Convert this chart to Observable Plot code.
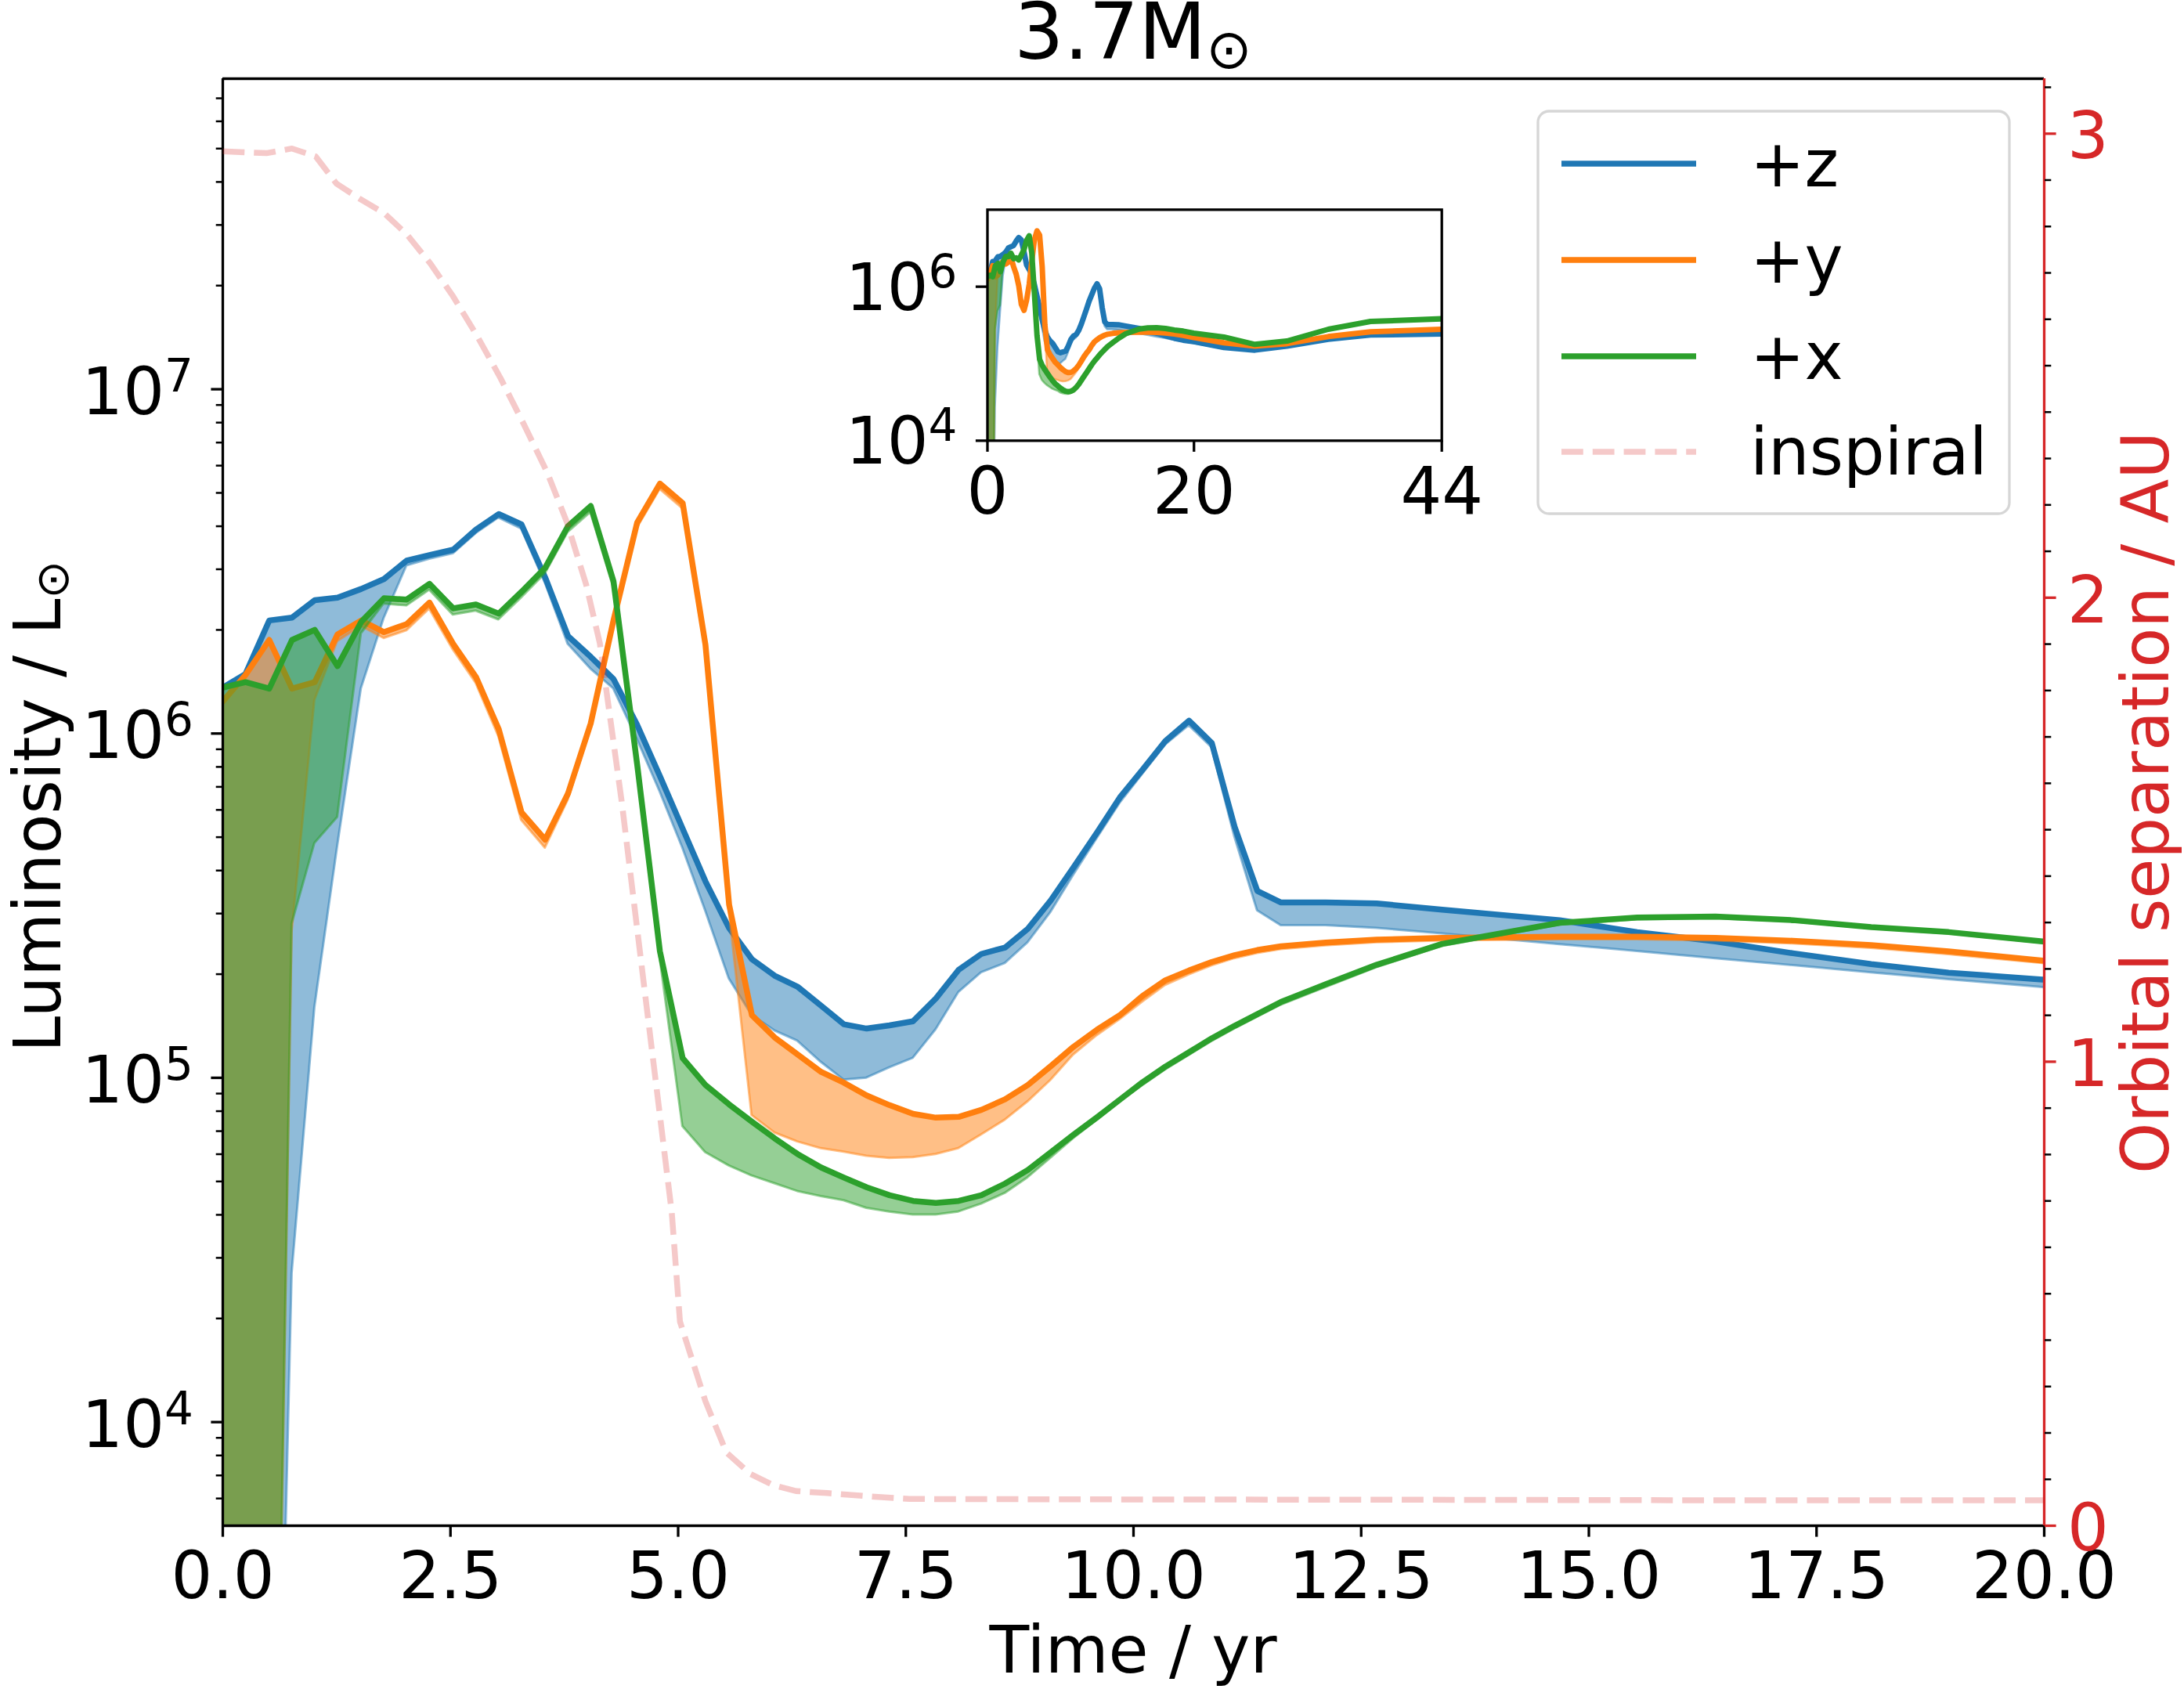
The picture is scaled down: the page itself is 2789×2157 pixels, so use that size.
<!DOCTYPE html>
<html><head><meta charset="utf-8">
<script src="https://cdn.jsdelivr.net/npm/d3@7"></script>
<script src="https://cdn.jsdelivr.net/npm/@observablehq/plot@0.6"></script>
<style>
html,body{margin:0;padding:0;background:#fff;}
#wrap{position:relative;width:2789px;height:2157px;}
#wrap svg{position:absolute;left:0;top:0;}
</style></head><body><div id="wrap"></div>
<script>
// ---------------- data ----------------
const time = [0, 0.25, 0.51, 0.76, 1.01, 1.26, 1.52, 1.77, 2.02, 2.27, 2.53, 2.78, 3.03, 3.28, 3.54, 3.79, 4.04, 4.29, 4.55, 4.80,
  5.05, 5.30, 5.56, 5.81, 6.06, 6.31, 6.57, 6.82, 7.07, 7.32, 7.58, 7.83, 8.08, 8.33, 8.59, 8.84, 9.09, 9.34, 9.60, 9.85,
  10.10, 10.35, 10.61, 10.86, 11.11, 11.36, 11.62,
  12.11, 12.67, 13.39, 14.68, 15.53, 16.39, 17.24, 18.10, 18.95, 19.98, 22.9, 25.9, 29.0, 33.0, 37.1, 44.0];

// +z (blue)
const zMid = [1.36e6, 1.49e6, 2.13e6, 2.17e6, 2.44e6, 2.48e6, 2.63e6, 2.81e6, 3.18e6, 3.30e6, 3.42e6, 3.91e6, 4.34e6, 4.05e6, 2.84e6, 1.92e6, 1.67e6, 1.44e6, 1.06e6, 7.52e5,
  5.29e5, 3.72e5, 2.72e5, 2.21e5, 1.98e5, 1.84e5, 1.62e5, 1.43e5, 1.39e5, 1.42e5, 1.46e5, 1.70e5, 2.06e5, 2.29e5, 2.39e5, 2.71e5, 3.27e5, 4.08e5, 5.16e5, 6.52e5,
  7.86e5, 9.51e5, 1.09e6, 9.38e5, 5.36e5, 3.49e5, 3.23e5,
  3.23e5, 3.21e5, 3.08e5, 2.87e5, 2.65e5, 2.49e5, 2.30e5, 2.14e5, 2.02e5, 1.93e5, 1.62e5, 1.50e5, 1.69e5, 2.08e5, 2.36e5, 2.43e5];
const zLo = [30, 30, 40, 2.7e4, 1.6e5, 4.7e5, 1.35e6, 2.16e6, 3.07e6, 3.21e6, 3.33e6, 3.81e6, 4.23e6, 3.93e6, 2.74e6, 1.82e6, 1.54e6, 1.35e6, 9.63e5, 6.78e5,
  4.65e5, 3.06e5, 1.94e5, 1.52e5, 1.37e5, 1.28e5, 1.11e5, 9.86e4, 9.99e4, 1.07e5, 1.14e5, 1.38e5, 1.77e5, 2.02e5, 2.15e5, 2.47e5, 3.02e5, 3.87e5, 4.96e5, 6.27e5,
  7.62e5, 9.26e5, 1.055e6, 9.10e5, 5.02e5, 3.06e5, 2.77e5,
  2.77e5, 2.72e5, 2.62e5, 2.44e5, 2.33e5, 2.22e5, 2.12e5, 2.02e5, 1.93e5, 1.83e5, 1.55e5, 1.44e5, 1.62e5, 2.00e5, 2.27e5, 2.34e5];

// +y (orange)
const yMid = [1.24e6, 1.48e6, 1.87e6, 1.35e6, 1.41e6, 1.94e6, 2.13e6, 1.97e6, 2.08e6, 2.40e6, 1.82e6, 1.46e6, 1.03e6, 5.90e5, 4.92e5, 6.69e5, 1.07e6, 2.13e6, 4.10e6, 5.32e6,
  4.67e6, 1.81e6, 3.18e5, 1.52e5, 1.31e5, 1.17e5, 1.04e5, 9.68e4, 8.89e4, 8.33e4, 7.86e4, 7.66e4, 7.70e4, 8.07e4, 8.66e4, 9.53e4, 1.08e5, 1.23e5, 1.38e5, 1.52e5,
  1.73e5, 1.92e5, 2.05e5, 2.17e5, 2.27e5, 2.35e5, 2.41e5,
  2.47e5, 2.52e5, 2.55e5, 2.57e5, 2.57e5, 2.55e5, 2.50e5, 2.43e5, 2.33e5, 2.19e5, 1.87e5, 1.69e5, 1.82e5, 2.25e5, 2.59e5, 2.80e5];
const yLo = [30, 30, 30, 2.65e5, 1.25e6, 1.85e6, 2.05e6, 1.89e6, 1.99e6, 2.30e6, 1.75e6, 1.40e6, 9.8e5, 5.6e5, 4.65e5, 6.4e5, 1.03e6, 2.05e6, 3.95e6, 5.12e6,
  4.50e6, 1.74e6, 3.06e5, 7.78e4, 6.92e4, 6.52e4, 6.23e4, 6.09e4, 5.92e4, 5.84e4, 5.87e4, 5.99e4, 6.23e4, 6.83e4, 7.54e4, 8.52e4, 9.83e4, 1.165e5, 1.327e5, 1.476e5,
  1.661e5, 1.857e5, 1.992e5, 2.115e5, 2.22e5, 2.30e5, 2.36e5,
  2.42e5, 2.47e5, 2.50e5, 2.52e5, 2.52e5, 2.50e5, 2.45e5, 2.38e5, 2.28e5, 2.15e5, 1.82e5, 1.65e5, 1.78e5, 2.20e5, 2.54e5, 2.75e5];

// +x (green)
const xMid = [1.36e6, 1.41e6, 1.35e6, 1.87e6, 2.00e6, 1.57e6, 2.11e6, 2.47e6, 2.45e6, 2.72e6, 2.31e6, 2.37e6, 2.23e6, 2.58e6, 3.03e6, 4.00e6, 4.58e6, 2.77e6, 8.13e5, 2.33e5,
  1.14e5, 9.53e4, 8.37e4, 7.46e4, 6.67e4, 6.01e4, 5.49e4, 5.13e4, 4.81e4, 4.56e4, 4.39e4, 4.33e4, 4.39e4, 4.56e4, 4.93e4, 5.40e4, 6.07e4, 6.83e4, 7.68e4, 8.64e4,
  9.71e4, 1.078e5, 1.187e5, 1.303e5, 1.416e5, 1.531e5, 1.661e5,
  1.87e5, 2.13e5, 2.45e5, 2.82e5, 2.92e5, 2.94e5, 2.87e5, 2.74e5, 2.65e5, 2.49e5, 2.22e5, 1.78e5, 1.97e5, 2.80e5, 3.54e5, 3.83e5];
const xLo = [30, 30, 30, 2.80e5, 4.80e5, 5.71e5, 1.95e6, 2.38e6, 2.35e6, 2.61e6, 2.21e6, 2.27e6, 2.14e6, 2.48e6, 2.91e6, 3.84e6, 4.39e6, 2.66e6, 7.8e5, 2.24e5,
  7.23e4, 6.07e4, 5.55e4, 5.19e4, 4.93e4, 4.68e4, 4.52e4, 4.40e4, 4.18e4, 4.08e4, 4.00e4, 4.00e4, 4.08e4, 4.30e4, 4.62e4, 5.13e4, 5.84e4, 6.66e4, 7.54e4, 8.52e4,
  9.5e4, 1.055e5, 1.162e5, 1.276e5, 1.387e5, 1.50e5, 1.627e5,
  1.83e5, 2.09e5, 2.41e5, 2.78e5, 2.88e5, 2.90e5, 2.84e5, 2.71e5, 2.62e5, 2.46e5, 2.18e5, 1.75e5, 1.93e5, 2.75e5, 3.48e5, 3.77e5];

// inspiral: orbital separation (AU)
const sepT  = [0, 0.48, 0.76, 1.02, 1.25, 1.51, 1.77, 2.02, 2.28, 2.53, 2.79, 3.05, 3.30, 3.56, 3.78, 3.99, 4.14, 4.25, 4.38, 4.51,
  4.64, 4.80, 4.93, 5.02, 5.30, 5.53, 5.79, 6.05, 6.30, 6.64, 7.08, 7.54, 10.1, 13.0, 16.0, 20.0];
const sepAU = [2.962, 2.958, 2.968, 2.951, 2.892, 2.859, 2.829, 2.783, 2.72, 2.649, 2.565, 2.473, 2.376, 2.271, 2.162, 2.028, 1.902, 1.746, 1.561, 1.351,
  1.141, 0.884, 0.675, 0.44, 0.268, 0.158, 0.112, 0.087, 0.0746, 0.0703, 0.0636, 0.0577, 0.0566, 0.056, 0.055, 0.055];

const seriesNames = ["+z", "+y", "+x"];
const seriesColors = ["#1f77b4", "#ff7f0e", "#2ca02c"];
const sepColor = "#d62728";

const xTicks = [0, 2.5, 5, 7.5, 10, 12.5, 15, 17.5, 20];
const yMajor = [1e4, 1e5, 1e6, 1e7];
const yMinor = [6e3, 7e3, 8e3, 9e3, 2e4, 3e4, 4e4, 5e4, 6e4, 7e4, 8e4, 9e4, 2e5, 3e5, 4e5, 5e5, 6e5, 7e5, 8e5, 9e5,
  2e6, 3e6, 4e6, 5e6, 6e6, 7e6, 8e6, 9e6, 2e7, 3e7, 4e7, 5e7, 6e7, 7e7];
const sepMajor = [0, 1, 2, 3];
const sepMinor = [0.1, 0.2, 0.3, 0.4, 0.5, 0.6, 0.7, 0.8, 0.9, 1.1, 1.2, 1.3, 1.4, 1.5, 1.6, 1.7, 1.8, 1.9,
  2.1, 2.2, 2.3, 2.4, 2.5, 2.6, 2.7, 2.8, 2.9, 3.1];
const insetXTicks = [0, 20, 44];
const insetYTicks = [1e4, 1e6];

// ---------------- layout ----------------
const W = 2789, H = 2157;
const FONT = "DejaVu Sans", FS = 83, TITLE_FS = 100;
const yDom = [5.0e3, 7.98e7];
const sepDom = [0, 3.1185];
const MAJ = 14.6, MIN = 8.3, LW = 3.3;
const LINE_W = 7.5, DASH = "27.8,12";

const tables = seriesNames.map((name, k) => {
  const mid = [zMid, yMid, xMid][k], lo = [zLo, yLo, xLo][k];
  return {name, color: seriesColors[k], rows: time.map((t, i) => ({t, mid: mid[i], lo: lo[i]}))};
});
const sepRows = sepT.map((t, i) => ({t, a: sepAU[i]}));

function seriesMarks(lineW, edgeW) {
  return tables.flatMap(s => [
    Plot.areaY(s.rows, {x: "t", y1: "lo", y2: "mid", fill: s.color, fillOpacity: 0.5,
      stroke: s.color, strokeOpacity: 0.5, strokeWidth: edgeW, clip: true}),
    Plot.lineY(s.rows, {x: "t", y: "mid", stroke: s.color, strokeWidth: lineW, clip: true})
  ]);
}
const expFmt = d => "10^" + Math.round(Math.log10(d));

function fixTexts(svg) {
  d3.select(svg).selectAll("text").each(function () {
    const s = this.textContent;
    const m = /^10\^(\d+)$/.exec(s);
    if (m) {
      const t = d3.select(this);
      t.text("10");
      t.append("tspan").attr("font-size", Math.round(FS * 0.7) + "px").attr("dy", -29).text(m[1]);
    } else if (s === "") {
      this.remove();
    }
  });
}

const baseStyle = {fontFamily: FONT, fontSize: FS + "px", background: "transparent", color: "black", overflow: "visible"};

// main luminosity axes
const main = Plot.plot({
  width: W, height: H,
  marginLeft: 284, marginRight: 179, marginTop: 100, marginBottom: 209,
  style: {...baseStyle, background: "white"},
  x: {domain: [0, 20], label: null},
  y: {type: "log", domain: yDom, label: null},
  marks: [
    ...seriesMarks(LINE_W, 3),
    Plot.ruleX([0], {stroke: "black", strokeWidth: LW}),
    Plot.ruleY([yDom[0], yDom[1]], {stroke: "black", strokeWidth: LW}),
    Plot.axisX({ticks: xTicks, tickFormat: () => "", tickSize: MAJ, strokeWidth: LW, fill: "none", label: null}),
    Plot.axisX({ticks: xTicks, tickFormat: d3.format(".1f"), tickSize: 0, tickPadding: MAJ + 19, stroke: "none", label: null}),
    Plot.axisY({ticks: yMajor, tickFormat: () => "", tickSize: MAJ, strokeWidth: LW, fill: "none", label: null}),
    Plot.axisY({ticks: yMinor, tickFormat: () => "", tickSize: MIN, strokeWidth: 2.5, fill: "none", label: null}),
    Plot.axisY({ticks: yMajor, tickFormat: expFmt, tickSize: 0, tickPadding: MAJ + 23, dy: 5, stroke: "none", label: null})
  ]
});
fixTexts(main);

// twin axis: orbital separation
const twin = Plot.plot({
  width: W, height: H,
  marginLeft: 284, marginRight: 179, marginTop: 100, marginBottom: 209,
  style: baseStyle,
  x: {domain: [0, 20], axis: null},
  y: {domain: sepDom, label: null},
  marks: [
    Plot.lineY(sepRows, {x: "t", y: "a", stroke: sepColor, strokeOpacity: 0.25, strokeWidth: LINE_W,
      strokeDasharray: DASH, strokeLinecap: "butt", clip: true}),
    Plot.ruleX([20], {stroke: sepColor, strokeWidth: LW}),
    Plot.axisY({anchor: "right", ticks: sepMinor, tickFormat: () => "", tickSize: MIN, strokeWidth: 2.5, stroke: "black", fill: "none", label: null}),
    Plot.axisY({anchor: "right", ticks: sepMajor, tickFormat: () => "", tickSize: MAJ, strokeWidth: LW, stroke: sepColor, fill: "none", label: null}),
    Plot.axisY({anchor: "right", ticks: sepMajor, tickFormat: d => String(d), tickSize: 0, tickPadding: MAJ + 15, dy: 5,
      stroke: "none", fill: sepColor, color: sepColor, label: null})
  ]
});
fixTexts(twin);

// inset axes (full time range)
const IL = 1060, IT = 230;
const inset = Plot.plot({
  width: 900, height: 470,
  marginLeft: 1260.5 - IL, marginRight: IL + 900 - 1840.7, marginTop: 267.3 - IT, marginBottom: IT + 470 - 562.3,
  style: baseStyle,
  x: {domain: [0, 44], label: null},
  y: {type: "log", domain: [1e4, 1e7], label: null},
  marks: [
    Plot.frame({fill: "white", stroke: "none"}),
    ...seriesMarks(7, 2.5),
    Plot.frame({stroke: "black", strokeWidth: LW}),
    Plot.axisX({ticks: insetXTicks, tickFormat: () => "", tickSize: MAJ, strokeWidth: LW, fill: "none", label: null}),
    Plot.axisX({ticks: insetXTicks, tickFormat: d => String(d), tickSize: 0, tickPadding: MAJ + 20, stroke: "none", label: null}),
    Plot.axisY({ticks: insetYTicks, tickFormat: () => "", tickSize: MAJ, strokeWidth: LW, fill: "none", label: null}),
    Plot.axisY({ticks: insetYTicks, tickFormat: expFmt, tickSize: 0, tickPadding: MAJ + 24, dy: 3, stroke: "none", label: null})
  ]
});
fixTexts(inset);
inset.style.left = IL + "px";
inset.style.top = IT + "px";

// annotations: title, axis labels, legend
const ann = d3.create("svg").attr("width", W).attr("height", H)
  .attr("font-family", FONT).attr("font-size", FS).style("overflow", "visible");
const title = ann.append("text").attr("x", 1447).attr("y", 75).attr("text-anchor", "middle")
  .attr("font-size", TITLE_FS).text("3.7M");
title.append("tspan").attr("font-size", Math.round(TITLE_FS * 0.7)).attr("dy", 12).text("\u2299");
ann.append("text").attr("x", 1447).attr("y", 2136).attr("text-anchor", "middle").text("Time / yr");
const yl = ann.append("text").attr("transform", "translate(77,1030) rotate(-90)").attr("text-anchor", "middle").text("Luminosity / L");
yl.append("tspan").attr("font-size", Math.round(FS * 0.7)).attr("dy", 10).text("\u2299");
ann.append("text").attr("transform", "translate(2769,1025) rotate(-90)").attr("text-anchor", "middle")
  .attr("fill", sepColor).text("Orbital separation / AU");

const leg = ann.append("g");
leg.append("rect").attr("x", 1964).attr("y", 142).attr("width", 602).attr("height", 514).attr("rx", 14)
  .attr("fill", "white").attr("fill-opacity", 0.8).attr("stroke", "#cccccc").attr("stroke-opacity", 0.8).attr("stroke-width", LW);
const legendItems = [
  ...seriesNames.map((n, k) => ({label: n, color: seriesColors[k], opacity: 1, dash: null})),
  {label: "inspiral", color: sepColor, opacity: 0.25, dash: DASH}
];
const rowY = [209, 332, 455, 577];
legendItems.forEach((it, k) => {
  leg.append("line").attr("x1", 1994).attr("x2", 2166).attr("y1", rowY[k]).attr("y2", rowY[k])
    .attr("stroke", it.color).attr("stroke-opacity", it.opacity).attr("stroke-width", LINE_W)
    .attr("stroke-dasharray", it.dash).attr("stroke-linecap", "butt");
  leg.append("text").attr("x", 2235).attr("y", rowY[k] + 29).text(it.label);
});

const wrap = document.getElementById("wrap");
wrap.append(main, twin, inset, ann.node());
</script></body></html>
